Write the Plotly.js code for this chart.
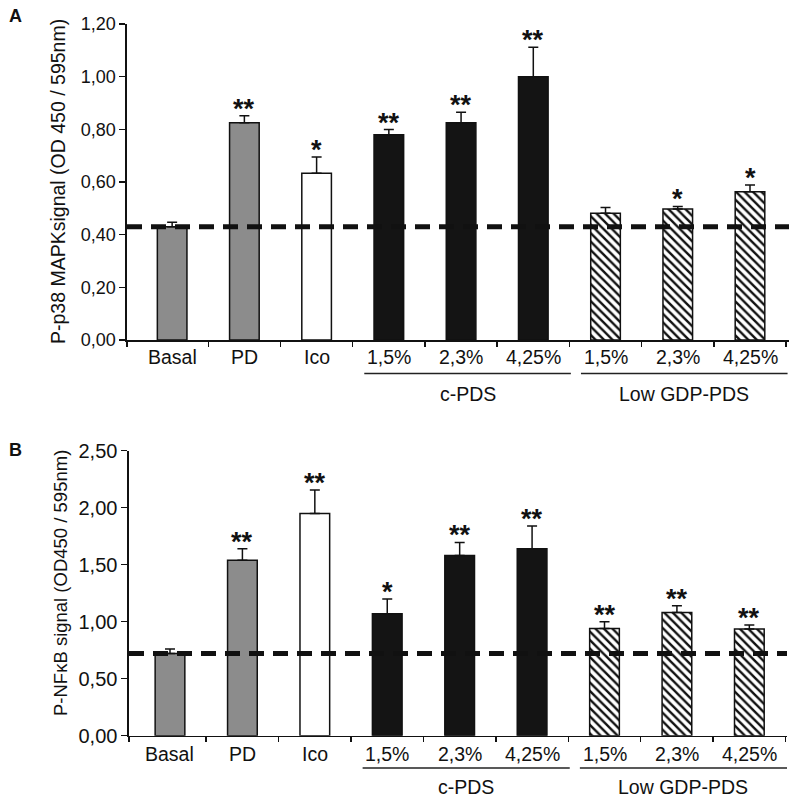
<!DOCTYPE html>
<html>
<head>
<meta charset="utf-8">
<script src="https://cdn.plot.ly/plotly-3.0.1.min.js"></script>
<style>html,body{margin:0;padding:0;background:#fff;}#chart{width:797px;height:801px;}</style>
</head>
<body>
<div id="chart"></div>
<script>
// ---- data ----
const categories = ["Basal", "PD", "Ico", "1,5%", "2,3%", "4,25%", "1,5%", "2,3%", "4,25%"];
const fillKinds = ["grey", "grey", "white", "black", "black", "black", "hatch", "hatch", "hatch"];
const groupNames = ["c-PDS", "Low GDP-PDS"];
const groupStart = [3, 6];
const groupEnd = [5, 8];

const p38Values = [0.43, 0.825, 0.633, 0.779, 0.825, 1.000, 0.481, 0.497, 0.563];
const p38Errors = [0.017, 0.027, 0.062, 0.020, 0.040, 0.112, 0.022, 0.010, 0.026];
const p38Stars = ["", "**", "*", "**", "**", "**", "", "*", "*"];
const p38Baseline = 0.43;

const nfkbValues = [0.72, 1.54, 1.95, 1.07, 1.58, 1.64, 0.94, 1.08, 0.935];
const nfkbErrors = [0.04, 0.10, 0.205, 0.13, 0.115, 0.20, 0.06, 0.06, 0.035];
const nfkbStars = ["", "**", "**", "*", "**", "**", "**", "**", "**"];
const nfkbBaseline = 0.72;

const yTitleA = "P-p38 MAPKsignal (OD 450 / 595nm)";
const yTitleB = "P-NFκB signal (OD450 / 595nm)";

// ---- styling ----
const FONT = "Liberation Sans, Arial, Helvetica, sans-serif";
const INK = "#111111";
const colorMap = {grey: "#8c8c8c", white: "#ffffff", black: "#141414", hatch: "#ffffff"};
const W = 797, H = 801;

const panels = [
  {key: "", values: p38Values, errors: p38Errors, stars: p38Stars, base: p38Baseline,
   title: yTitleA, letter: "A", titleSize: 19.5, tickSize: 18,
   xdom: [127 / W, 789 / W], ydom: [1 - 340 / H, 1 - 24 / H],
   xrange: [-0.625, 8.54], yrange: [0, 1.2], dtick: 0.2,
   labelY: 1 - 357 / H, lineY: 1 - 373.5 / H, groupY: 1 - 393.5 / H,
   titleX: 58 / W, titleY: 1 - 182 / H, letterY: 1 - 16 / H},
  {key: "2", values: nfkbValues, errors: nfkbErrors, stars: nfkbStars, base: nfkbBaseline,
   title: yTitleB, letter: "B", titleSize: 18.5, tickSize: 20,
   xdom: [129 / W, 787 / W], ydom: [1 - 735.7 / H, 1 - 450.7 / H],
   xrange: [-0.566, 8.52], yrange: [0, 2.5], dtick: 0.5,
   labelY: 1 - 754 / H, lineY: 1 - 768 / H, groupY: 1 - 787 / H,
   titleX: 60 / W, titleY: 1 - 583 / H, letterY: 1 - 450 / H}
];

const data = [];
const annotations = [];
const shapes = [];
const layout = {
  width: W, height: H,
  margin: {l: 0, r: 0, t: 0, b: 0},
  paper_bgcolor: "#ffffff", plot_bgcolor: "#ffffff",
  showlegend: false,
  separators: ",.",
  font: {family: FONT, color: INK, size: 17},
  bargap: 0.6
};

panels.forEach(p => {
  const xs = categories.map((c, i) => i);
  const solidIdx = xs.filter(i => fillKinds[i] !== "hatch");
  const hatchIdx = xs.filter(i => fillKinds[i] === "hatch");
  const xa = "x" + p.key, ya = "y" + p.key;

  const mk = (idx, hatched) => ({
    type: "bar",
    x: idx, y: idx.map(i => p.values[i]),
    xaxis: xa, yaxis: ya,
    width: 0.41,
    marker: hatched ? {
      color: INK,
      line: {color: INK, width: 1.5},
      pattern: {shape: "\\", fgcolor: INK, bgcolor: "#ffffff", size: 6, solidity: 0.4, fillmode: "replace"}
    } : {
      color: idx.map(i => colorMap[fillKinds[i]]),
      line: {color: INK, width: 1.5}
    },
    error_y: {type: "data", symmetric: false, array: idx.map(i => p.errors[i]),
              arrayminus: idx.map(() => 0), color: INK, thickness: 1.5, width: 5},
    hoverinfo: "skip"
  });
  data.push(mk(solidIdx, false));
  data.push(mk(hatchIdx, true));

  const tickvals = [p.xrange[0]].concat(categories.map((c, i) => i + 0.5));
  layout["xaxis" + p.key] = {
    domain: p.xdom, range: p.xrange, anchor: ya,
    showline: true, linecolor: INK, linewidth: 1.6,
    ticks: "outside", ticklen: 5, tickwidth: 1.5, tickcolor: INK,
    tickvals: tickvals, ticktext: tickvals.map(() => ""),
    showgrid: false, zeroline: false, fixedrange: true
  };
  layout["yaxis" + p.key] = {
    domain: p.ydom, range: p.yrange, anchor: xa,
    showline: true, linecolor: INK, linewidth: 1.6,
    ticks: "outside", ticklen: 6, tickwidth: 1.5, tickcolor: INK,
    dtick: p.dtick, tick0: 0, tickformat: ".2f",
    tickfont: {family: FONT, size: p.tickSize, color: INK},
    showgrid: false, zeroline: false, fixedrange: true
  };

  // dashed baseline (control level)
  shapes.push({type: "line", xref: xa + " domain", yref: ya, x0: 0, x1: 1, y0: p.base, y1: p.base,
               line: {color: INK, width: 5, dash: "15px,9px"}, layer: "above"});

  // category labels
  categories.forEach((c, i) => {
    annotations.push({xref: xa, yref: "paper", x: i, y: p.labelY, text: c, showarrow: false,
                      xanchor: "center", yanchor: "middle",
                      font: {family: FONT, size: 19.5, color: INK}});
  });

  // significance stars
  p.stars.forEach((s, i) => {
    if (!s) return;
    annotations.push({xref: xa, yref: ya, x: i, y: p.values[i] + p.errors[i], text: "<b>" + s + "</b>",
                      showarrow: false, xanchor: "center", yanchor: "bottom", yshift: -10,
                      font: {family: FONT, size: 27, color: INK}});
  });

  // group underlines + labels
  groupNames.forEach((g, k) => {
    const x0 = groupStart[k] - 0.34, x1 = groupEnd[k] + 0.52;
    shapes.push({type: "line", xref: xa, yref: "paper", x0: x0, x1: x1, y0: p.lineY, y1: p.lineY,
                 line: {color: "#222222", width: 1.5}});
    annotations.push({xref: xa, yref: "paper", x: (x0 + x1) / 2, y: p.groupY, text: g, showarrow: false,
                      xanchor: "center", yanchor: "middle",
                      font: {family: FONT, size: 19.5, color: INK}});
  });

  // y-axis title
  annotations.push({xref: "paper", yref: "paper", x: p.titleX, y: p.titleY,
                    text: p.title, textangle: -90, showarrow: false,
                    xanchor: "center", yanchor: "middle",
                    font: {family: FONT, size: p.titleSize, color: INK}});

  // panel letter
  annotations.push({xref: "paper", yref: "paper", x: 7 / W, y: p.letterY, text: "<b>" + p.letter + "</b>",
                    showarrow: false, xanchor: "left", yanchor: "middle",
                    font: {family: FONT, size: 18, color: INK}});
});

layout.annotations = annotations;
layout.shapes = shapes;

Plotly.newPlot("chart", data, layout, {displayModeBar: false, staticPlot: true});
</script>
</body>
</html>
